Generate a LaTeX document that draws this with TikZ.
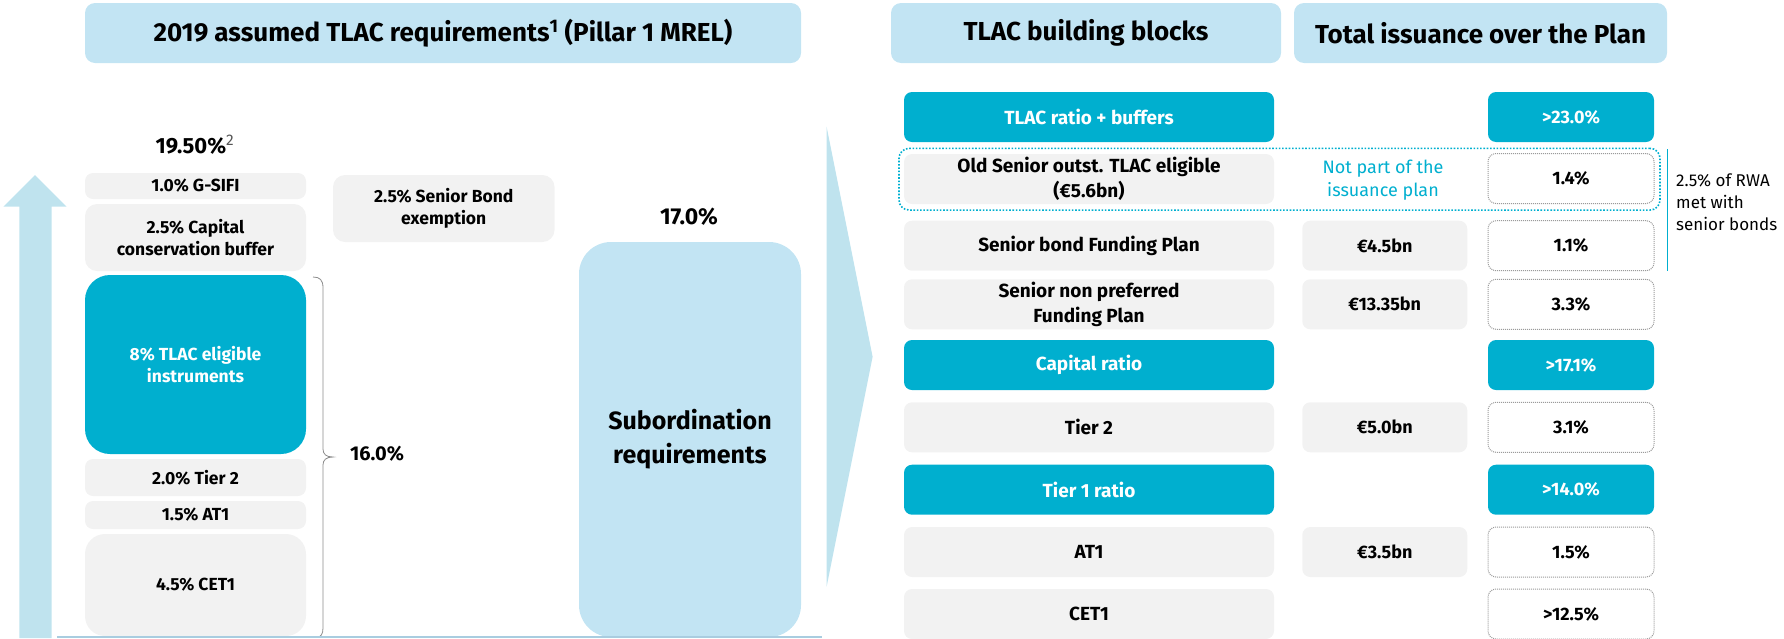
\documentclass[tikz,border=0pt]{standalone}
\usepackage{fontspec}
\setmainfont{Fira Sans}
\definecolor{tlacteal}{HTML}{00AFCF}
\definecolor{headblue}{HTML}{C2E4F3}
\definecolor{paleblue}{HTML}{BFE3EE}
\definecolor{blockgray}{HTML}{F2F2F2}
\definecolor{dotgray}{HTML}{9A9A9A}
\definecolor{baseblue}{HTML}{A9CDE0}
\definecolor{bracegray}{HTML}{8C8C8C}
\definecolor{textgray}{HTML}{555555}

\begin{document}
\begin{tikzpicture}[x=1pt,y=-1pt,
    header/.style={fill=headblue, rounded corners=10pt, inner sep=0pt, minimum height=60pt, font=\fontsize{26}{30}\selectfont\bfseries},
    stackblock/.style={fill=blockgray, rounded corners=8pt, inner sep=0pt, minimum width=221pt, align=center, font=\fontsize{17.5}{22.5}\selectfont\bfseries},
    stackteal/.style={stackblock, fill=tlacteal, text=white, rounded corners=25pt},
    rowblock/.style={fill=blockgray, rounded corners=8pt, inner sep=0pt, minimum height=50pt, align=center, font=\fontsize{18}{25}\selectfont\bfseries},
    rowtext/.style={font=\fontsize{19}{25.5}\selectfont\bfseries},
    rowteal/.style={rowblock, fill=tlacteal, text=white},
    pctbox/.style={rowblock, fill=white, draw=dotgray, line width=1pt, dash pattern=on 1pt off 1pt, minimum width=166pt},
    wide/.style={minimum width=370pt, rowtext},
    mid/.style={minimum width=165pt},
    narrow/.style={minimum width=166pt},
    bigpct/.style={font=\fontsize{22}{26}\selectfont\bfseries}]
    \useasboundingbox (0,0) rectangle (1784,638);

    \fill [paleblue] (19.3,638) -- (19.3,206.7) -- (3.3,206.7) -- (35,175) -- (66.7,206.7) -- (51.7,206.7) -- (51.7,638) -- cycle;
    \fill [paleblue] (826.6,126.7) -- (872.6,356.7) -- (826.6,586.7) -- cycle;

    \node [header, minimum width=716pt] (lefthead) at (443,33) {2019 assumed TLAC requirements\textsuperscript{1} (Pillar 1 MREL)};
    \node [header, minimum width=390pt] (blockhead) at (1086,33) {TLAC building blocks};
    \node [header, minimum width=373pt] (issuehead) at (1480.5,33) {Total issuance over the Plan};

    \node [bigpct, anchor=base] (totalreq) at (195,153) {19.50\%\textsuperscript{\mdseries\color{textgray}2}};
    \node [stackblock, minimum height=26pt] (gsifi) at (195.5,186) {1.0\% G-SIFI};
    \node [stackblock, minimum height=67pt, rounded corners=12pt] (ccb) at (195.5,237.5) {2.5\% Capital\\conservation buffer};
    \node [stackteal, minimum height=179pt] (tlacelig) at (195.5,364.5) {8\% TLAC eligible\\instruments};
    \node [stackblock, minimum height=37pt] (tiertwostack) at (195.5,477.5) {2.0\% Tier 2};
    \node [stackblock, minimum height=28pt] (atonestack) at (195.5,515) {1.5\% AT1};
    \node [stackblock, minimum height=102pt, rounded corners=20pt] (cetonestack) at (195.5,585) {4.5\% CET1};
    \node [stackblock, minimum height=67pt, minimum width=221.5pt, rounded corners=12pt] (exemption) at (443.75,208.5) {2.5\% Senior Bond\\exemption};

    \draw [bracegray, line width=0.8pt] (313,277) .. controls (320,277) and (323,280) .. (323,288) -- (323,449) .. controls (323,454) and (326,457) .. (333,457) .. controls (326,457) and (323,460) .. (323,465) -- (323,628) .. controls (323,634) and (321,637) .. (317,637);
    \node [font=\fontsize{20}{24}\selectfont\bfseries] (sixteen) at (377,454) {16.0\%};

    \node [font=\fontsize{23}{26}\selectfont\bfseries] (seventeen) at (689,217) {17.0\%};
    \node [fill=headblue, rounded corners=32pt, inner sep=0pt, minimum width=222pt, minimum height=395pt, align=center, font=\fontsize{25}{34}\selectfont\bfseries] (subord) at (690,439.5) {Subordination\\requirements};
    \draw [baseblue, line width=2pt] (57,637) -- (822,637);

    \node [rowteal, wide] (tlacbuf) at (1089,117) {TLAC ratio + buffers};
    \node [rowteal, narrow] (tlacpct) at (1571,117) {>23.0\%};

    \node [draw=tlacteal, line width=1.6pt, dash pattern=on 1.6pt off 1.7pt, rounded corners=10pt, minimum width=761pt, minimum height=61.7pt] (eligframe) at (1279.5,179.2) {};
    \node [rowblock, wide] (oldsenior) at (1089,179) {Old Senior outst. TLAC eligible\\(€5.6bn)};
    \node [text=tlacteal, align=center, font=\fontsize{18}{23}\selectfont] (notpart) at (1383,180) {Not part of the\\issuance plan};
    \node [pctbox] (oldpct) at (1571,178.5) {1.4\%};

    \node [rowblock, wide] (seniorbond) at (1089,245.7) {Senior bond Funding Plan};
    \node [rowblock, mid] (seniorbondamt) at (1384.75,245.7) {€4.5bn};
    \node [pctbox] (seniorbondpct) at (1571,245.7) {1.1\%};

    \draw [tlacteal, line width=1.8pt] (1667.5,149) coordinate (rwatop) -- (1667.5,271) coordinate (rwabottom);
    \node [anchor=north west, align=left, inner sep=0pt, font=\fontsize{17}{22}\selectfont] (rwanote) at (1676,174) {2.5\% of RWA\\met with\\senior bonds};

    \node [rowblock, wide] (snp) at (1089,304.3) {Senior non preferred\\Funding Plan};
    \node [rowblock, mid] (snpamt) at (1384.75,304.3) {€13.35bn};
    \node [pctbox] (snppct) at (1571,304.3) {3.3\%};

    \node [rowteal, wide] (capratio) at (1089,365) {Capital ratio};
    \node [rowteal, narrow] (capratiopct) at (1571,365) {>17.1\%};

    \node [rowblock, wide] (tiertwo) at (1089,427.3) {Tier 2};
    \node [rowblock, mid] (tiertwoamt) at (1384.75,427.3) {€5.0bn};
    \node [pctbox] (tiertwopct) at (1571,427.3) {3.1\%};

    \node [rowteal, wide] (tieroneratio) at (1089,489.7) {Tier 1 ratio};
    \node [rowteal, narrow] (tieronepct) at (1571,489.7) {>14.0\%};

    \node [rowblock, wide] (atone) at (1089,552) {AT1};
    \node [rowblock, mid] (atoneamt) at (1384.75,552) {€3.5bn};
    \node [pctbox] (atonepct) at (1571,552) {1.5\%};

    \node [rowblock, wide] (cetone) at (1089,614) {CET1};
    \node [pctbox] (cetonepct) at (1571,614) {>12.5\%};
    \end{tikzpicture}
\end{document}
